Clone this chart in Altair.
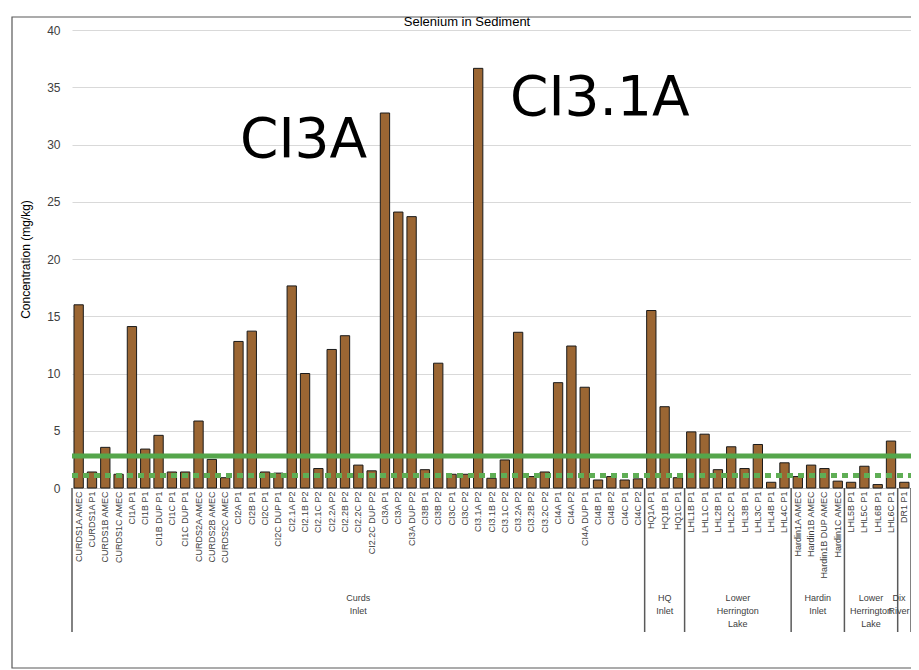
import altair as alt
import pandas as pd

samples = [
    "CURDS1A AMEC", "CURDS1A P1", "CURDS1B AMEC", "CURDS1C AMEC", "CI1A P1", "CI1B P1",
    "CI1B DUP P1", "CI1C P1", "CI1C DUP P1", "CURDS2A AMEC", "CURDS2B AMEC", "CURDS2C AMEC",
    "CI2A P1", "CI2B P1", "CI2C P1", "CI2C DUP P1", "CI2.1A P2", "CI2.1B P2", "CI2.1C P2",
    "CI2.2A P2", "CI2.2B P2", "CI2.2C P2", "CI2.2C DUP P2", "CI3A P1", "CI3A P2",
    "CI3A DUP P2", "CI3B P1", "CI3B P2", "CI3C P1", "CI3C P2", "CI3.1A P2", "CI3.1B P2",
    "CI3.1C P2", "CI3.2A P2", "CI3.2B P2", "CI3.2C P2", "CI4A P1", "CI4A P2", "CI4A DUP P1",
    "CI4B P1", "CI4B P2", "CI4C P1", "CI4C P2",
    "HQ1A P1", "HQ1B P1", "HQ1C P1",
    "LHL1B P1", "LHL1C P1", "LHL2B P1", "LHL2C P1", "LHL3B P1", "LHL3C P1", "LHL4B P1", "LHL4C P1",
    "Hardin1A AMEC", "Hardin1B AMEC", "Hardin1B DUP AMEC", "Hardin1C AMEC",
    "LHL5B P1", "LHL5C P1", "LHL6B P1", "LHL6C P1",
    "DR1 P1",
]
selenium = [
    16.0, 1.4, 3.55, 1.2, 14.1, 3.4, 4.6, 1.4, 1.4, 5.85, 2.5, 0.9,
    12.8, 13.7, 1.4, 1.3, 17.65, 10.0, 1.7, 12.1, 13.3, 2.0, 1.5, 32.75, 24.1,
    23.7, 1.6, 10.9, 1.2, 1.2, 36.65, 0.85, 2.45, 13.6, 1.0, 1.4, 9.2, 12.4, 8.8,
    0.7, 1.0, 0.7, 0.8,
    15.5, 7.1, 0.9,
    4.9, 4.7, 1.6, 3.6, 1.7, 3.8, 0.5, 2.2,
    1.0, 2.0, 1.7, 0.6,
    0.5, 1.9, 0.3, 4.1,
    0.5,
]
group_names = ["Curds\nInlet", "HQ\nInlet", "Lower\nHerrington\nLake", "Hardin\nInlet",
               "Lower\nHerrington\nLake", "Dix\nRiver"]
group_sizes = [43, 3, 8, 4, 4, 1]
guideline_values = [2.8, 1.1]
guideline_styles = ["solid", "dotted"]
annotations = ["CI3A", "CI3.1A"]
chart_title = "Selenium in Sediment"

W, H = 839, 458
step = W / len(samples)

df = pd.DataFrame({"sample": samples, "value": selenium})

# group boundaries & centers (pixel positions derived from group sizes)
bounds = [0]
for s in group_sizes:
    bounds.append(bounds[-1] + s)
sep_df = pd.DataFrame({"px": [b * step for b in bounds]})
grp_df = pd.DataFrame({
    "label": group_names,
    "px": [min((bounds[i] + bounds[i + 1]) / 2 * step, W - 12) for i in range(len(group_sizes))],
})

xenc = alt.X("sample:N", sort=samples,
             scale=alt.Scale(paddingInner=0.3, paddingOuter=0.15),
             axis=alt.Axis(title=None, labelAngle=-90, labelFontSize=9, labelColor="#404040",
                           labelFont="Liberation Sans", ticks=False, labelPadding=3,
                           domainColor="#bfbfbf", labelLimit=200, grid=False))

bars = alt.Chart(df).mark_bar(color="#9b6633", stroke="#1a1a1a", strokeWidth=1).encode(
    x=xenc,
    y=alt.Y("value:Q", scale=alt.Scale(domain=[0, 40]),
            axis=alt.Axis(title="Concentration (mg/kg)", values=list(range(0, 41, 5)),
                          titleFontSize=12, titleFont="Liberation Sans", titleFontWeight="normal",
                          titleColor="#000000", titlePadding=14,
                          labelFontSize=12, labelFont="Liberation Sans", labelColor="#404040",
                          ticks=False, domain=False, labelPadding=12,
                          gridColor="#d9d9d9", gridWidth=1)),
)

g_df = pd.DataFrame({"v": guideline_values, "style": guideline_styles})
solid = alt.Chart(g_df[g_df["style"] == "solid"]).mark_rule(
    color="#55a64b", strokeWidth=5).encode(
    y="v:Q", x=alt.value(0), x2=alt.value(W))
dotted = alt.Chart(g_df[g_df["style"] == "dotted"]).mark_rule(
    color="#5fae55", strokeWidth=5, strokeDash=[6, 5]).encode(
    y="v:Q", x=alt.value(0), x2=alt.value(W))

seps = alt.Chart(sep_df).mark_rule(color="#595959", strokeWidth=1.5).encode(
    x=alt.X("px:Q", scale=None), y=alt.value(H), y2=alt.value(H + 144))

grp_text = alt.Chart(grp_df).mark_text(
    fontSize=9, font="Liberation Sans", color="#404040", lineBreak="\n",
    baseline="top", align="center", lineHeight=13).encode(
    x=alt.X("px:Q", scale=None), y=alt.value(H + 106), text="label:N")

ann_df = pd.DataFrame({"label": annotations, "px": [168, 438], "py": [127, 85]})
ann = alt.Chart(ann_df).mark_text(
    fontSize=55, font="DejaVu Sans", color="#000000", align="left",
    baseline="alphabetic").encode(
    x=alt.X("px:Q", scale=None), y=alt.Y("py:Q", scale=None), text="label:N")

title_df = pd.DataFrame({"t": [chart_title]})
title = alt.Chart(title_df).mark_text(
    fontSize=13, font="Liberation Sans", color="#000000", align="center",
    baseline="middle").encode(
    x=alt.value(395), y=alt.value(-8), text="t:N")

frame = alt.Chart(pd.DataFrame({"a": [0]})).mark_rect(
    fill="transparent", stroke="#595959", strokeWidth=1.2).encode(
    x=alt.value(-60), x2=alt.value(W + 30), y=alt.value(-13), y2=alt.value(H + 180))

chart = alt.layer(frame, bars, solid, dotted, seps, grp_text, ann, title).properties(
    width=W, height=H,
    autosize=alt.AutoSizeParams(type="none"),
    padding={"left": 64, "top": 22, "right": 0, "bottom": 182},
).configure_view(stroke=None).configure_axisX(grid=False)

chart.save("out.html", embed_options={"renderer": "svg", "actions": False})
